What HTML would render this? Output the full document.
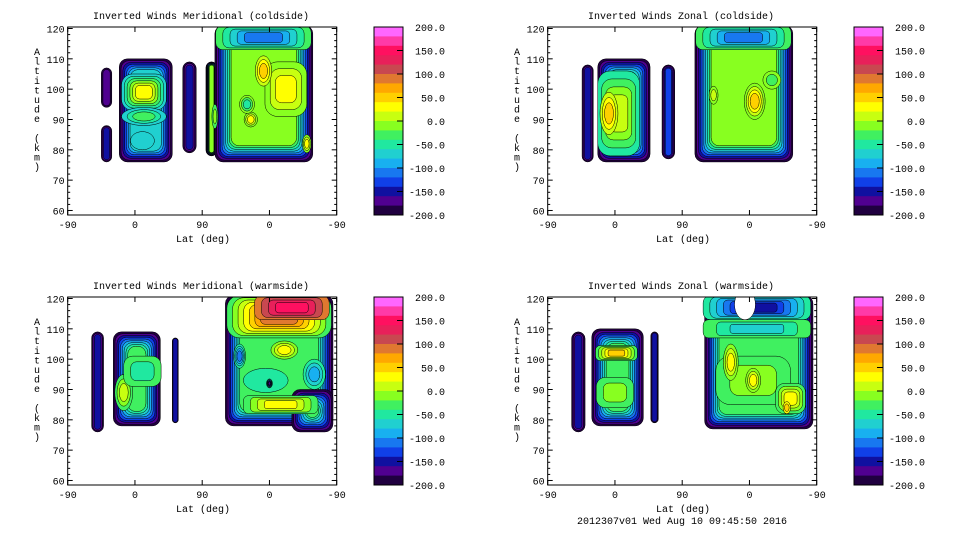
<!DOCTYPE html>
<html><head><meta charset="utf-8">
<style>
html,body{margin:0;padding:0;background:#fff;}
svg text{font-family:"Liberation Mono","DejaVu Sans Mono",monospace;font-size:10px;fill:#000;}
</style></head>
<body>
<svg id="chart" width="960" height="540" viewBox="0 0 960 540" xmlns="http://www.w3.org/2000/svg"></svg>
<script>
// ---- data ----
const palette = ["#ff66ff","#ff3aa8","#ff1060","#e8205a","#c84850","#e07830","#ffa800","#ffd000","#ffff00","#c8ff10","#88ff20","#40f060","#20e8a0","#20d0d0","#18b0f0","#1878f0","#1040e8","#1010a0","#500090","#200040"];
const colorbarTicks = [200,150,100,50,0,-50,-100,-150,-200];
const xTickLabels = ["-90","0","90","0","-90"];
const xTickPos = [0,90,180,270,360];
const yTicks = [60,70,80,90,100,110,120];
const titles = ["Inverted Winds Meridional (coldside)","Inverted Winds Zonal (coldside)","Inverted Winds Meridional (warmside)","Inverted Winds Zonal (warmside)"];
// blobs: [u0,u1,altLow,altHigh,baseValue]
const blobsTL = [[45,59,94,107,-170],[45,59,76,88,-150],[69,140,76,110,-70],[154,172,79,109,-140],[185,200,78,109,-10],[197,328,76,121,-10]];
const blobsTR = [[46,61,76,108,-140],[67,137,76,110,-40],[153,170,77,108,-130],[197,328,76,121,-10]];
const blobsBL = [[32,48,76,109,-140],[61,124,78,109,-30],[140,148,79,107,-140],[211,355,78,121,-20],[300,355,76,90,-20]];
const blobsBR = [[32,50,76,109,-140],[59,128,78,110,-30],[138,148,79,109,-140],[210,355,77,121,-20]];
// patches: [u,alt,radiusU,radiusAlt,fromValue,toValue,shape] (toValue null = empty)
const patchesTL = [[102,99,30,6,-70,30,'r'],[102,91,30,3,-70,-30,'e'],[100,83,16,3,-70,-70,'e'],[262,117,64,4,-30,-110,'r'],[292,100,28,9,-10,20,'r'],[262,106,11,5,10,50,'e'],[245,90,9,2.5,-10,20,'e'],[240,95,10,3,-10,-40,'e'],[197,91,4,4,-30,-10,'e'],[320,82,6,3,-10,30,'e']];
const patchesTR = [[95,92,28,14,-40,20,'r'],[82,92,12,7,20,60,'e'],[262,117,64,4,-30,-110,'r'],[277,96,14,6,-10,40,'e'],[222,98,6,3,-10,10,'e'],[300,103,12,3,-10,-30,'e']];
const patchesBL = [[75,89,12,6,-30,10,'e'],[100,96,25,5,-30,-50,'r'],[283,114,70,7,-20,100,'r'],[300,117,50,4,100,150,'r'],[290,103,18,3,0,30,'e'],[230,101,8,4,-40,-90,'e'],[285,85,50,3,-20,30,'r'],[265,93,30,4,-40,-40,'e'],[270,92,4,1.5,-40,-160,'e'],[330,95,15,5,-40,-70,'e']];
const patchesBR = [[92,102,28,2.5,-30,40,'r'],[90,89,25,5,-30,-10,'r'],[280,117,72,4,-50,-150,'r'],[280,110,72,3,-20,-60,'r'],[275,93,50,8,-20,0,'r'],[245,99,10,6,0,30,'e'],[275,93,10,4,0,40,'e'],[325,87,20,5,-20,30,'r'],[320,84,5,2,30,50,'e'],[264,118,14,5,null,null,'e']];

const blobSets = [blobsTL,blobsTR,blobsBL,blobsBR];
const patchSets = [patchesTL,patchesTR,patchesBL,patchesBR];
const offsets = [[0,0],[480,0],[0,270],[480,270]];

const NS="http://www.w3.org/2000/svg";
const svg=document.getElementById('chart');
function mk(tag,attrs,parent){const e=document.createElementNS(NS,tag);for(const k in attrs)e.setAttribute(k,attrs[k]);(parent||svg).appendChild(e);return e;}
function colorOf(v){let i=Math.floor((200-v)/20);if(i<0)i=0;if(i>19)i=19;return palette[i];}

const PX0=67.7, PX1=336.7, PY0=27, PY1=215;
function xs(u,ox){return ox+PX0+(u/360)*(PX1-PX0);}
function ys(a,oy){return oy+28.5+(120-a)*3.033;}

for(let p=0;p<4;p++){
  const [ox,oy]=offsets[p];
  const g=mk('g',{});
  
  
  const clipId='clip'+p;
  const cp=mk('clipPath',{id:clipId},g);
  mk('rect',{x:ox+PX0,y:oy+PY0,width:PX1-PX0,height:PY1-PY0},cp);
  const plot=mk('g',{'clip-path':'url(#'+clipId+')'},g);
  
  
  blobSets[p].forEach(b=>{
    const x0=xs(b[0],ox),x1=xs(b[1],ox),y0=ys(b[3],oy),y1=ys(b[2],oy);
    const w=x1-x0,h=y1-y0;
    const levels=[];for(let v=-190;v<=b[4]+0.1;v+=20)levels.push(v);
    const n=levels.length;
    const step=Math.min(1.8,(Math.min(w,h)/2-2)/n);
    levels.forEach((v,i)=>{
      const d=i*step;
      const r=mk('rect',{x:x0+d,y:y0+d,width:Math.max(1,w-2*d),height:Math.max(1,h-2*d),rx:Math.min(8,(w-2*d)/2),fill:colorOf(v),stroke:'#000','stroke-width':0.5},plot);
      
      
    });
  });
  patchSets[p].forEach(q=>{
    const cx=xs(q[0],ox),cy=ys(q[1],oy),rx=q[2]/360*(PX1-PX0),ry=q[3]*3.033;
    if(q[5]===null){
      const e=mk('ellipse',{cx:cx,cy:cy,rx:rx,ry:ry,fill:'#fff',stroke:'#000','stroke-width':0.5},plot);
      
      
      return;
    }
    const from=q[4],to=q[5];
    const n=Math.max(1,Math.round(Math.abs(to-from)/20)+1);
    const dir=to>=from?20:-20;
    for(let i=0;i<n;i++){
      const v=from+dir*i;
      const s=1-i*(0.75/n);
      let e;
      if(q[6]==='r'){
        e=mk('rect',{x:cx-rx*s,y:cy-ry*s,width:2*rx*s,height:2*ry*s,rx:Math.min(rx*s,ry*s)*0.6,fill:colorOf(v),stroke:'#000','stroke-width':0.5},plot);
      } else {
        e=mk('ellipse',{cx:cx,cy:cy,rx:rx*s,ry:ry*s,fill:colorOf(v),stroke:'#000','stroke-width':0.5},plot);
      }
      
      
    }
  });
  const fr=mk('rect',{x:ox+PX0,y:oy+PY0,width:PX1-PX0,height:PY1-PY0,fill:'none',stroke:'#000','stroke-width':1},g);
  
  
  for(let a=60;a<=120;a+=2){
    const y=ys(a,oy);const major=a%10===0;const L=major?5:2.5;
    mk('line',{x1:ox+PX0,x2:ox+PX0+L,y1:y,y2:y,stroke:'#000','stroke-width':1},g);
    mk('line',{x1:ox+PX1,x2:ox+PX1-L,y1:y,y2:y,stroke:'#000','stroke-width':1},g);
  }
  yTicks.forEach(a=>{
    const t=mk('text',{x:ox+PX0-3,y:ys(a,oy)+4,'text-anchor':'end'},g);
    t.textContent=a;
    
    
  });
  xTickPos.forEach((u,i)=>{
    const x=xs(u,ox);
    mk('line',{x1:x,x2:x,y1:oy+PY1,y2:oy+PY1-5,stroke:'#000'},g);
    mk('line',{x1:x,x2:x,y1:oy+PY0,y2:oy+PY0+5,stroke:'#000'},g);
    const t=mk('text',{x:x,y:oy+PY1+13,'text-anchor':'middle'},g);
    t.textContent=xTickLabels[i];
    
    
  });
  const tt=mk('text',{x:ox+201,y:oy+19,'text-anchor':'middle'},g);
  tt.textContent=titles[p];
  
  
  const xl=mk('text',{x:ox+203,y:oy+242,'text-anchor':'middle'},g);
  xl.textContent='Lat (deg)';
  
  
  const yl=mk('text',{x:ox+37,y:oy+48,'text-anchor':'middle'},g);
  
  
  'Altitude (km)'.split('').forEach((ch,i)=>{const ts=mk('tspan',{x:ox+37,y:oy+55+i*9.6},yl);ts.textContent=ch===' '?'\u00a0':ch;});
  const cb=mk('g',{},g);
  
  
  const cbx=ox+374,cbw=29,cby0=oy+27,cby1=oy+215,bh=(cby1-cby0)/20;
  palette.forEach((c,i)=>{mk('rect',{x:cbx,y:cby0+i*bh,width:cbw,height:bh+0.5,fill:c},cb);});
  mk('rect',{x:cbx,y:cby0,width:cbw,height:cby1-cby0,fill:'none',stroke:'#000'},cb);
  colorbarTicks.forEach(v=>{
    const y=cby0+(200-v)/400*(cby1-cby0);
    mk('line',{x1:cbx+cbw,x2:cbx+cbw-6,y1:y,y2:y,stroke:'#000'},cb);
    const t=mk('text',{x:ox+445,y:y+4,'text-anchor':'end'},cb);
    t.textContent=v.toFixed(1);
    
    
  });
}
const ft=mk('text',{x:682,y:524,'text-anchor':'middle'});
ft.textContent='2012307v01 Wed Aug 10 09:45:50 2016';


</script>
</body></html>
